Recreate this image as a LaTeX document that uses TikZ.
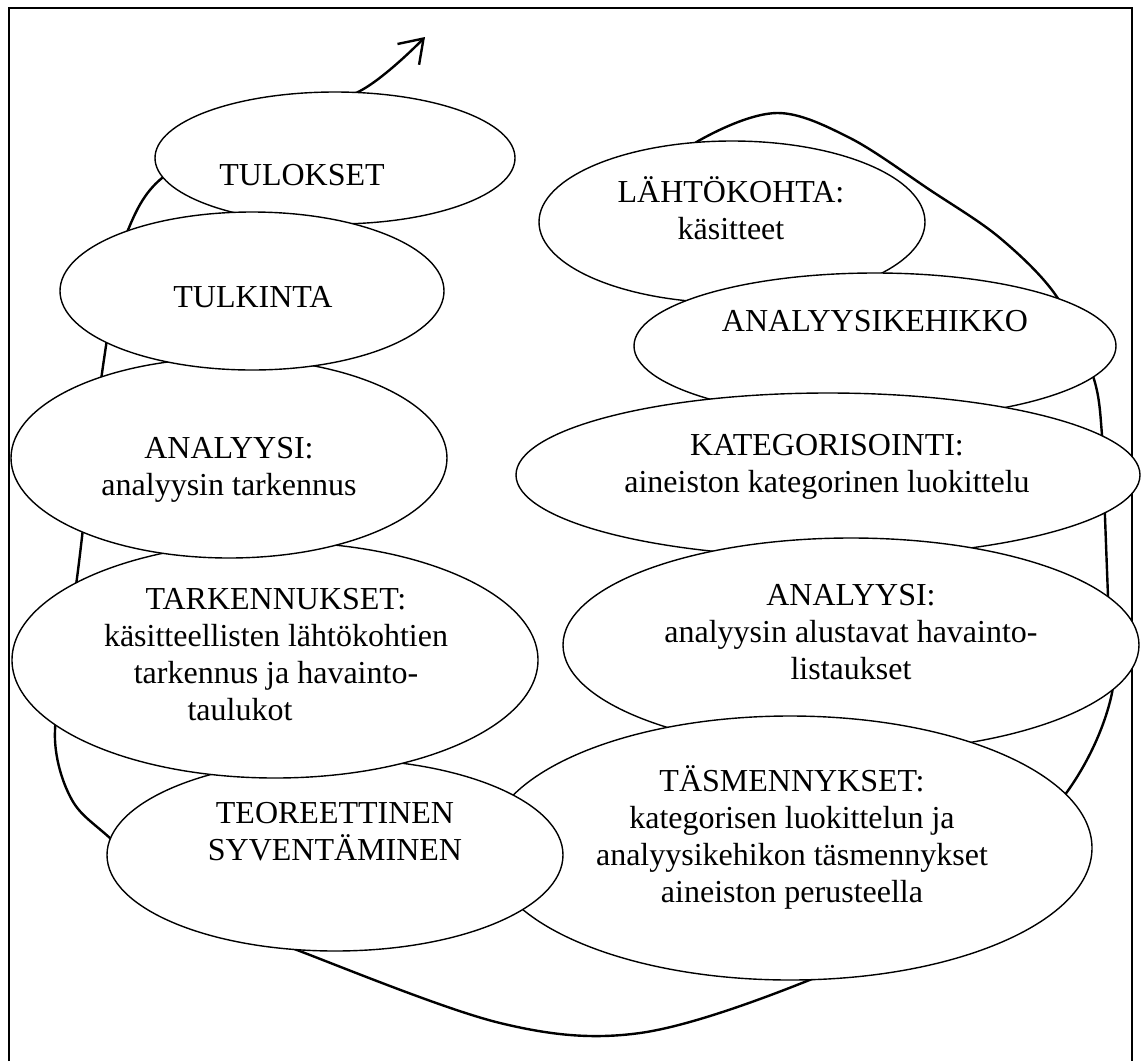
\documentclass[tikz,border=0pt]{standalone}
\usepackage{fontspec}
\setmainfont{Liberation Serif}
\usetikzlibrary{arrows.meta,shapes.geometric}
\begin{document}
\begin{tikzpicture}[x=1pt,y=-1pt,
  stage/.style={ellipse, draw, fill=white, line width=1.4pt, inner sep=0pt},
  lbl/.style={align=center, anchor=base, inner sep=0pt, font=\fontsize{32}{37}\selectfont},
  loopline/.style={line width=2.4pt, line cap=round, line join=round}]
\useasboundingbox (0,0) rectangle (1141,1061);
% frame
\draw[line width=1.5pt] (9,1061) -- (9,8) -- (1132,8) -- (1132,1061);
% loop
\coordinate (loopstart) at (630,195);
\coordinate (arrowtip) at (425,37);
\draw[loopline, -{Straight Barb[length=22pt,width=30pt]}] plot[smooth, tension=0.55] coordinates {
 (loopstart) (700,140) (777,113) (850,138) (930,190) (1000,238) (1057,297)
 (1093,376) (1102,435) (1105,517) (1108,596) (1112,693) (1067,792) (960,905)
 (807,981) (640,1033) (500,1023) (297,950) (190,905)
 (110,838) (72,800) (55,740) (65,650) (77,578) (92,450) (102,373)
 (115,290) (128,230) (162,178) (250,130) (360,91) (arrowtip)};
% right column
\node[stage, minimum width=386pt, minimum height=162pt] (lahto) at (732,222) {};
\node[lbl] (lahtoT) at (731,239) {LÄHTÖKOHTA:\\käsitteet};
\node[stage, minimum width=482pt, minimum height=146pt] (kehikko) at (875,346) {};
\node[lbl] (kehikkoT) at (875,331) {ANALYYSIKEHIKKO};
\node[stage, minimum width=624pt, minimum height=164pt] (kateg) at (828,475) {};
\node[lbl] (kategT) at (827,492) {KATEGORISOINTI:\\aineiston kategorinen luokittelu};
\node[stage, minimum width=576pt, minimum height=214pt] (analR) at (851,645) {};
\node[lbl] (analRT) at (851,679) {ANALYYSI:\\analyysin alustavat havainto-\\listaukset};
\node[stage, minimum width=604pt, minimum height=264pt] (tasm) at (790,848) {};
\node[lbl] (tasmT) at (792,902) {TÄSMENNYKSET:\\kategorisen luokittelun ja\\analyysikehikon täsmennykset\\aineiston perusteella};
% left column
\node[stage, minimum width=456pt, minimum height=192pt] (teor) at (335,855) {};
\node[lbl] (teorT) at (335,860) {TEOREETTINEN\\SYVENTÄMINEN};
\node[stage, minimum width=526pt, minimum height=236pt] (tark) at (275,660) {};
\node[lbl] (tarkT) at (276,720) {TARKENNUKSET:\\käsitteellisten lähtökohtien\\tarkennus ja havainto-\\taulukot\hspace*{72pt}};
\node[stage, minimum width=436pt, minimum height=200pt] (analL) at (229,458) {};
\node[lbl] (analLT) at (229,495) {ANALYYSI:\\analyysin tarkennus};
\node[stage, minimum width=360pt, minimum height=132pt] (tulos) at (335,158) {};
\node[lbl] (tulosT) at (302,185) {TULOKSET};
\node[stage, minimum width=384pt, minimum height=158pt] (tulk) at (252,291) {};
\node[lbl] (tulkT) at (253,307) {TULKINTA};
\end{tikzpicture}
\end{document}
